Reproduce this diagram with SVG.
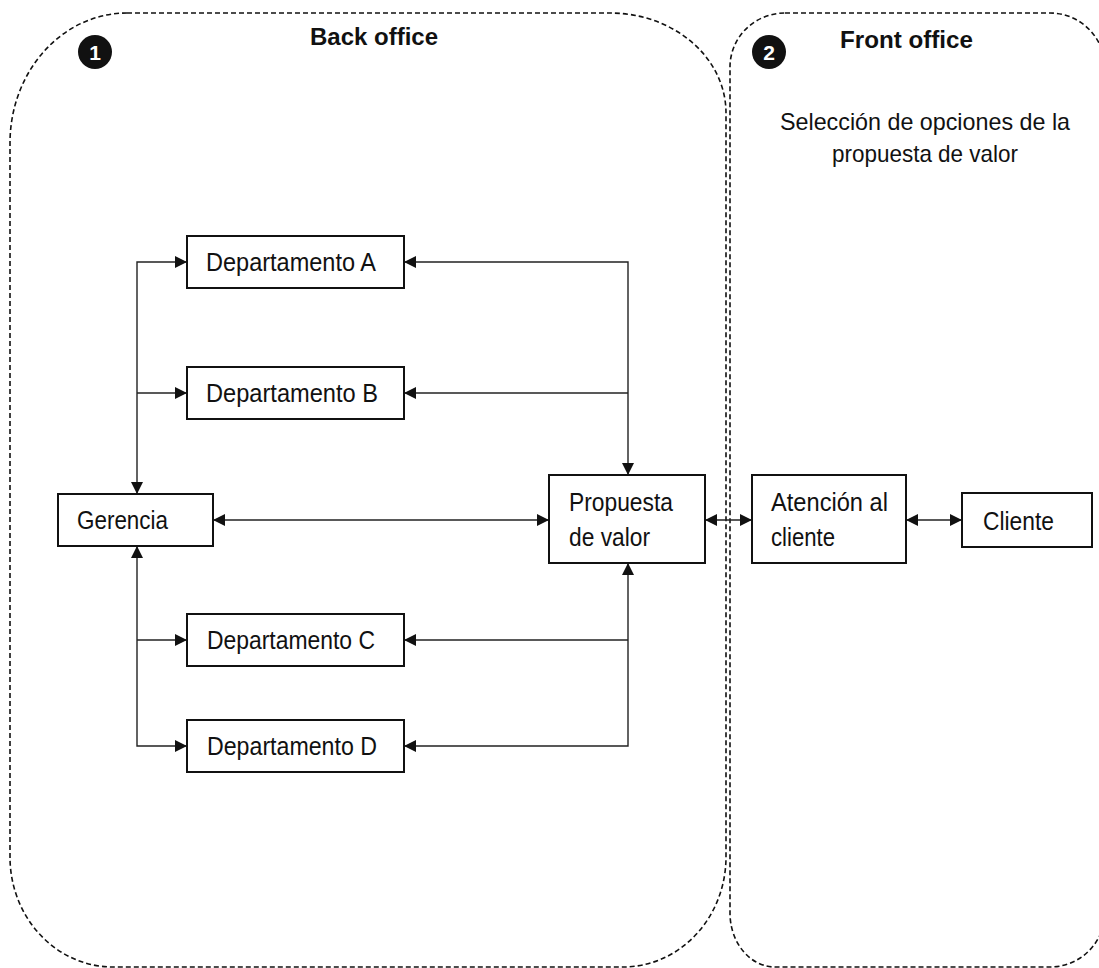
<svg xmlns="http://www.w3.org/2000/svg" width="1099" height="968" viewBox="0 0 1099 968">
<style>
.zone{fill:none;stroke:#111;stroke-width:1.6;stroke-dasharray:5 3}
.box{fill:#fff;stroke:#111;stroke-width:2}
.t{font-family:"Liberation Sans",Arial,sans-serif;font-size:26px;fill:#111}
.s{font-family:"Liberation Sans",Arial,sans-serif;font-size:24px;fill:#111}
.h{font-family:"Liberation Sans",Arial,sans-serif;font-size:24px;font-weight:bold;fill:#111}
.n{font-family:"Liberation Sans",Arial,sans-serif;font-size:21px;font-weight:bold;fill:#fff}
.c{fill:none;stroke:#222;stroke-width:1.4}
</style>
<defs>
<marker id="arr" viewBox="0 0 10 10" refX="10" refY="5" markerWidth="13" markerHeight="12" markerUnits="userSpaceOnUse" orient="auto-start-reverse">
<path d="M0,0 L10,5 L0,10 z" fill="#111"/>
</marker>
</defs>
<g id="back-office">
<path class="zone" d="M127,13 H610 A116,100 0 0 1 726,113 V857 A103,110 0 0 1 623,967 H113 A103,110 0 0 1 10,857 V143 A117,130 0 0 1 127,13 Z"/>
<circle cx="95" cy="52" r="17" fill="#111"/>
<text class="n" x="95" y="60" text-anchor="middle">1</text>
<text class="h" x="310" y="45" textLength="128" lengthAdjust="spacingAndGlyphs">Back office</text>
</g>
<g id="front-office">
<path class="zone" d="M785,13 H1050 A55,55 0 0 1 1105,68 V912 A55,55 0 0 1 1050,967 H775 A45,54 0 0 1 730,913 V67 A55,54 0 0 1 785,13 Z"/>
<circle cx="769" cy="52" r="17" fill="#111"/>
<text class="n" x="769" y="60" text-anchor="middle">2</text>
<text class="h" x="840" y="48" textLength="133" lengthAdjust="spacingAndGlyphs">Front office</text>
<text class="s" x="925" y="130" text-anchor="middle" textLength="290" lengthAdjust="spacingAndGlyphs">Selección de opciones de la</text>
<text class="s" x="925" y="162" text-anchor="middle" textLength="186" lengthAdjust="spacingAndGlyphs">propuesta de valor</text>
</g>
<g id="connectors">
<path class="c" d="M187,262 H137 V494" marker-start="url(#arr)" marker-end="url(#arr)"/>
<path class="c" d="M137,393 H187" marker-end="url(#arr)"/>
<path class="c" d="M187,746 H137 V546" marker-start="url(#arr)" marker-end="url(#arr)"/>
<path class="c" d="M137,640 H187" marker-end="url(#arr)"/>
<path class="c" d="M404,262 H628 V475" marker-start="url(#arr)" marker-end="url(#arr)"/>
<path class="c" d="M628,393 H404" marker-end="url(#arr)"/>
<path class="c" d="M404,746 H628 V563" marker-start="url(#arr)" marker-end="url(#arr)"/>
<path class="c" d="M628,640 H404" marker-end="url(#arr)"/>
<path class="c" d="M213,520 H549" marker-start="url(#arr)" marker-end="url(#arr)"/>
<path class="c" d="M705,520 H752" marker-start="url(#arr)" marker-end="url(#arr)"/>
<path class="c" d="M906,520 H962" marker-start="url(#arr)" marker-end="url(#arr)"/>
</g>
<g id="dept-a"><rect class="box" x="187" y="236" width="217" height="52"/><text class="t" x="206" y="271" textLength="170" lengthAdjust="spacingAndGlyphs">Departamento  A</text></g>
<g id="dept-b"><rect class="box" x="187" y="367" width="217" height="52"/><text class="t" x="206" y="402" textLength="172" lengthAdjust="spacingAndGlyphs">Departamento  B</text></g>
<g id="gerencia"><rect class="box" x="58" y="494" width="155" height="52"/><text class="t" x="77" y="529" textLength="91" lengthAdjust="spacingAndGlyphs">Gerencia</text></g>
<g id="dept-c"><rect class="box" x="187" y="614" width="217" height="52"/><text class="t" x="207" y="649" textLength="168" lengthAdjust="spacingAndGlyphs">Departamento  C</text></g>
<g id="dept-d"><rect class="box" x="187" y="720" width="217" height="52"/><text class="t" x="207" y="755" textLength="170" lengthAdjust="spacingAndGlyphs">Departamento  D</text></g>
<g id="propuesta"><rect class="box" x="549" y="475" width="156" height="88"/><text class="t" x="569" y="511" textLength="104" lengthAdjust="spacingAndGlyphs">Propuesta</text><text class="t" x="569" y="546" textLength="81" lengthAdjust="spacingAndGlyphs">de valor</text></g>
<g id="atencion"><rect class="box" x="752" y="475" width="154" height="88"/><text class="t" x="771" y="511" textLength="117" lengthAdjust="spacingAndGlyphs">Atención  al</text><text class="t" x="771" y="546" textLength="64" lengthAdjust="spacingAndGlyphs">cliente</text></g>
<g id="cliente"><rect class="box" x="962" y="493" width="130" height="54"/><text class="t" x="983" y="530" textLength="71" lengthAdjust="spacingAndGlyphs">Cliente</text></g>
</svg>
